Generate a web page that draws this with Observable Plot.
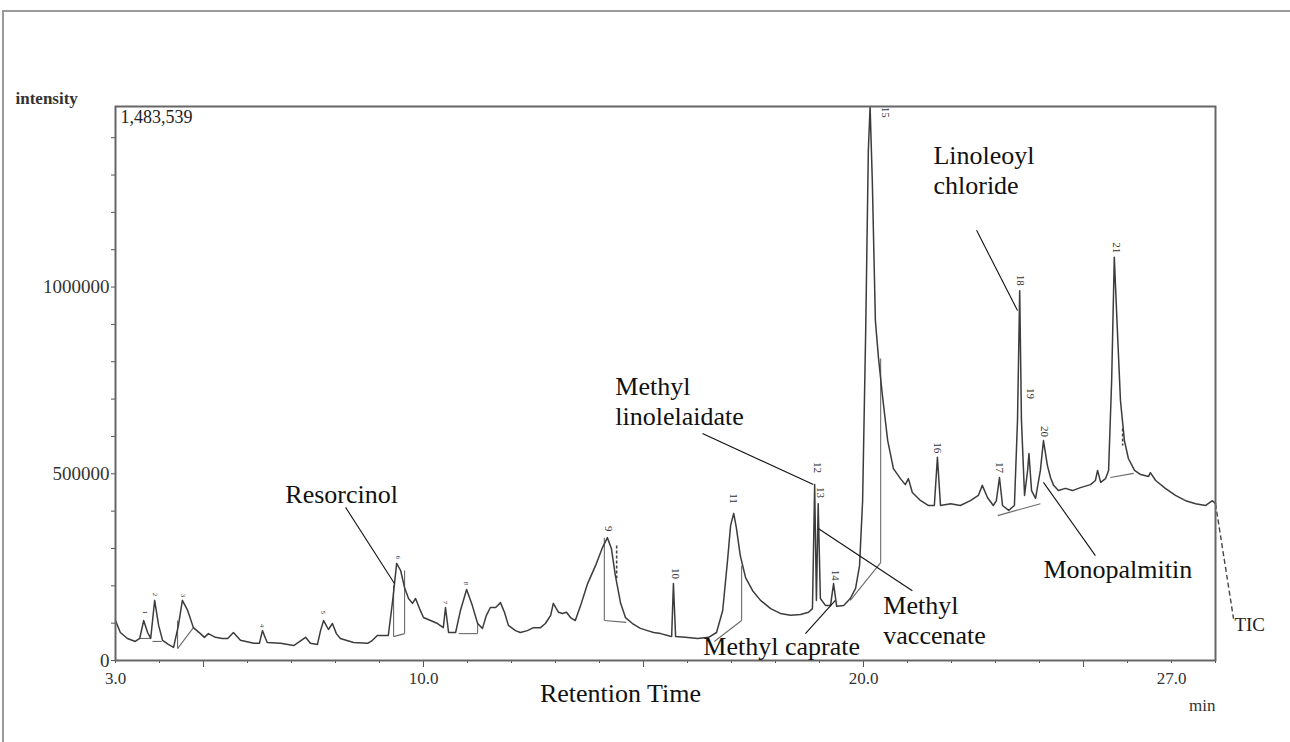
<!DOCTYPE html>
<html>
<head>
<meta charset="utf-8">
<script src="https://cdn.jsdelivr.net/npm/d3@7"></script>
<script src="https://cdn.jsdelivr.net/npm/@observablehq/plot@0.6"></script>
<style>
  html, body { margin: 0; padding: 0; background: #fff; width: 1290px; height: 742px; overflow: hidden; }
  #box { position: absolute; top: 10px; left: 2px; width: 1290px; height: 740px; border-top: 2px solid #9a9a9a; border-left: 2px solid #9a9a9a; }
  #chart { position: absolute; top: 0; left: 0; }
</style>
</head>
<body>
<div id="box"></div>
<div id="chart"></div>
<script>
// ---- Chromatogram trace (retention time in min, intensity in counts) ----
const retentionTime = [
  3.00,3.11,3.27,3.45,3.55,3.64,3.73,3.80,3.89,3.98,4.07,4.20,4.32,4.43,4.52,4.64,4.77,4.93,5.02,5.11,
  5.27,5.43,5.55,5.68,5.84,6.14,6.27,6.34,6.41,6.45,6.75,7.05,7.32,7.43,7.59,7.66,7.73,7.84,7.93,8.02,
  8.11,8.41,8.73,8.84,8.95,9.20,9.30,9.39,9.48,9.57,9.66,9.75,9.82,9.91,10.00,10.16,10.32,10.45,10.50,10.57,
  10.73,10.84,10.98,11.11,11.23,11.34,11.43,11.52,11.64,11.75,11.84,11.93,12.09,12.20,12.36,12.50,12.66,12.77,12.89,12.95,
  13.07,13.16,13.25,13.34,13.45,13.57,13.73,13.91,14.07,14.18,14.27,14.36,14.48,14.59,14.75,14.93,15.09,15.23,15.39,15.55,
  15.64,15.68,15.73,15.95,16.23,16.48,16.66,16.80,16.91,16.98,17.05,17.11,17.20,17.32,17.48,17.66,17.89,18.11,18.34,18.57,
  18.75,18.84,18.89,18.93,18.97,19.02,19.14,19.25,19.32,19.39,19.55,19.70,19.82,19.91,19.98,20.05,20.11,20.15,20.20,20.27,
  20.34,20.43,20.55,20.68,20.84,20.95,21.02,21.11,21.30,21.48,21.61,21.68,21.75,21.98,22.20,22.43,22.61,22.70,22.82,22.95,
  23.02,23.09,23.16,23.30,23.43,23.50,23.55,23.59,23.66,23.73,23.76,23.82,23.91,24.02,24.09,24.18,24.25,24.32,24.43,24.59,
  24.75,24.93,25.16,25.27,25.32,25.39,25.50,25.57,25.64,25.70,25.77,25.84,25.93,26.02,26.16,26.30,26.48,26.52,26.64,26.86,
  27.09,27.32,27.55,27.77,27.93,28.00
];
const intensity = [
  107000,75000,59000,51000,59000,107000,75000,59000,161000,94000,54000,43000,35000,94000,161000,134000,88000,72000,62000,72000,
  62000,59000,59000,75000,54000,46000,46000,80000,59000,48000,46000,40000,62000,46000,43000,80000,107000,83000,99000,72000,
  59000,48000,46000,54000,67000,67000,161000,260000,241000,195000,166000,153000,166000,139000,115000,107000,99000,88000,142000,75000,
  75000,134000,190000,147000,99000,86000,121000,142000,142000,155000,129000,94000,80000,75000,80000,88000,88000,99000,121000,153000,
  129000,126000,129000,115000,107000,147000,206000,254000,303000,329000,300000,228000,153000,115000,99000,86000,80000,75000,72000,67000,
  64000,206000,64000,62000,59000,62000,75000,134000,268000,362000,394000,356000,281000,222000,187000,161000,139000,126000,121000,123000,
  129000,139000,471000,161000,420000,166000,147000,147000,206000,145000,147000,166000,193000,254000,428000,884000,1366000,1483539,1285000,910000,
  811000,710000,589000,514000,487000,471000,487000,450000,428000,415000,415000,544000,415000,420000,415000,428000,442000,469000,436000,415000,
  428000,490000,415000,402000,415000,643000,990000,643000,442000,509000,554000,455000,434000,509000,589000,522000,490000,469000,455000,461000,
  455000,463000,471000,482000,509000,477000,487000,509000,750000,1080000,884000,696000,589000,541000,509000,498000,493000,503000,482000,461000,
  442000,428000,420000,415000,428000,420000
];

// ---- Peak numbers (apex labels) ----
const peakNumbers = ["1","2","3","4","5","6","7","8","9","10","11","12","13","14","15","16","17","18","19","20","21"];
const peakLabelTime = [3.68,3.91,4.55,6.34,7.73,9.43,10.50,10.98,14.20,15.73,17.05,18.95,19.02,19.36,20.50,21.68,23.09,23.57,23.80,24.11,25.75];
const peakLabelIntensity = [129000,177000,174000,94000,129000,276000,155000,206000,353000,233000,434000,517000,450000,228000,1468000,570000,517000,1018000,715000,613000,1105000];

// ---- Integration baselines / drop lines drawn by the software ----
const segT1 = [3.55,3.84,4.41,4.41,9.32,9.57,9.32,10.80,11.23,14.11,14.11,16.61,17.23,19.70,20.39,23.05,25.61];
const segI1 = [59000,51000,32000,32000,64000,72000,64000,72000,72000,329000,107000,51000,107000,161000,262000,388000,490000];
const segT2 = [3.80,4.05,4.77,4.41,9.57,9.57,9.32,11.23,11.23,14.11,14.61,17.23,17.23,20.39,20.39,24.02,26.14];
const segI2 = [59000,51000,88000,107000,72000,241000,201000,72000,99000,107000,102000,107000,254000,262000,809000,420000,501000];
const dashT = [14.39,25.89];
const dashI1 = [308000,621000];
const dashI2 = [220000,576000];

// ---- Compound annotations ----
const compoundNames = ["Resorcinol","Methyl\nlinolelaidate","Methyl caprate","Methyl\nvaccenate","Linoleoyl\nchloride","Monopalmitin"];
const compoundTextT = [8.14,14.36,18.14,20.45,21.59,24.09];
const compoundTextI = [447000,696000,40000,111000,1316000,246000];
const compoundAnchor = ["middle","start","middle","start","start","start"];
const leaderT1 = [8.23,16.34,18.68,18.98,22.57,24.09];
const leaderI1 = [410000,608000,72000,353000,1152000,477000];
const leaderT2 = [9.34,18.86,19.36,21.11,23.50,25.27];
const leaderI2 = [206000,471000,161000,187000,937000,281000];

// ---- Axes ----
const yTickValues = d3.range(0, 1500000, 100000);
const yTickLabels = [0, 500000, 1000000];
const xMinorTicks = d3.range(3, 29, 1);
const xMajorTicks = [5, 10, 15, 20, 25];
const xTickLabels = [3, 10, 20, 27];
const yMax = 1483539;
const ticTail = {t: [28.0, 28.41], i: [420000, 112000]};

// ---- build tables ----
const trace = retentionTime.map((t, k) => ({t, v: intensity[k]}));
const peaks = peakNumbers.map((n, k) => ({n, t: peakLabelTime[k], v: peakLabelIntensity[k], small: k < 8}));
const segs = segT1.map((t, k) => ({x1: t, y1: segI1[k], x2: segT2[k], y2: segI2[k]}));
const dashes = dashT.map((t, k) => ({x1: t, y1: dashI1[k], x2: t, y2: dashI2[k]}));
const annots = compoundNames.map((name, k) => ({name, t: compoundTextT[k], v: compoundTextI[k], anchor: compoundAnchor[k]}));
const leaders = leaderT1.map((t, k) => ({x1: t, y1: leaderI1[k], x2: leaderT2[k], y2: leaderI2[k]}));
const tic = [{x1: ticTail.t[0], y1: ticTail.i[0], x2: ticTail.t[1], y2: ticTail.i[1]}];

const serif = "'Liberation Serif', 'Times New Roman', serif";
const annotStyle = {x: "t", y: "v", text: "name", lineAnchor: "middle", lineHeight: 1.15, fontSize: 26, fill: "#111"};

const chart = Plot.plot({
  width: 1290,
  height: 742,
  marginLeft: 115,
  marginRight: 75,
  marginTop: 106,
  marginBottom: 82,
  x: {domain: [3, 28]},
  y: {domain: [0, yMax]},
  style: {fontFamily: serif, background: "transparent", color: "#222"},
  marks: [
    // axes
    Plot.axisY(yTickValues, {tickSize: 4, tickPadding: 2, stroke: "#555", fontSize: 19, label: null, fill: "#333",
      tickFormat: d => yTickLabels.includes(d) ? String(d) : ""}),
    Plot.axisX(xMinorTicks, {tickSize: 3, stroke: "#555", label: null, tickFormat: () => ""}),
    Plot.axisX(xMajorTicks, {tickSize: 7, stroke: "#555", label: null, tickFormat: () => ""}),
    Plot.axisX(xTickLabels, {tickSize: 0, tickPadding: 11, fontSize: 17, label: null, fill: "#333",
      tickFormat: d => d.toFixed(1)}),
    // integration marks
    Plot.link(segs, {x1: "x1", y1: "y1", x2: "x2", y2: "y2", stroke: "#6a6a6a", strokeWidth: 1.1}),
    Plot.link(dashes, {x1: "x1", y1: "y1", x2: "x2", y2: "y2", stroke: "#444", strokeWidth: 1.6, strokeDasharray: "3,2"}),
    // trace
    Plot.line(trace, {x: "t", y: "v", stroke: "#3c3c3c", strokeWidth: 1.5}),
    Plot.link(tic, {x1: "x1", y1: "y1", x2: "x2", y2: "y2", stroke: "#444", strokeWidth: 1.4, strokeDasharray: "5,3"}),
    // frame
    Plot.frame({stroke: "#666", strokeWidth: 2}),
    // peak numbers
    Plot.text(peaks.filter(d => !d.small), {x: "t", y: "v", text: "n", rotate: 90, fontSize: 11, fill: "#333"}),
    Plot.text(peaks.filter(d => d.small), {x: "t", y: "v", text: "n", rotate: 90, fontSize: 7, fill: "#334"}),
    // compound leaders and names
    Plot.link(leaders, {x1: "x1", y1: "y1", x2: "x2", y2: "y2", stroke: "#111", strokeWidth: 1.1}),
    Plot.text(annots.filter(d => d.anchor === "middle"), {...annotStyle, textAnchor: "middle"}),
    Plot.text(annots.filter(d => d.anchor === "start"), {...annotStyle, textAnchor: "start"}),
    // misc labels
    Plot.text(["TIC"], {x: 28.43, y: 94000, textAnchor: "start", fontSize: 19, fill: "#222"}),
    Plot.text(["1,483,539"], {frameAnchor: "top-left", dx: 5, dy: 4, lineAnchor: "top", textAnchor: "start", fontSize: 18, fill: "#222"}),
    Plot.text(["intensity"], {frameAnchor: "top-left", dx: -100, dy: -3, lineAnchor: "bottom", textAnchor: "start",
      fontSize: 17, fontWeight: "bold", fill: "#333"}),
    Plot.text(["Retention Time"], {frameAnchor: "bottom", dx: -45, dy: 33, lineAnchor: "middle", fontSize: 26, fill: "#111"}),
    Plot.text(["min"], {frameAnchor: "bottom-right", dx: 0, dy: 45, lineAnchor: "middle", textAnchor: "end", fontSize: 17, fill: "#333"})
  ]
});
document.getElementById("chart").appendChild(chart);
</script>
</body>
</html>
